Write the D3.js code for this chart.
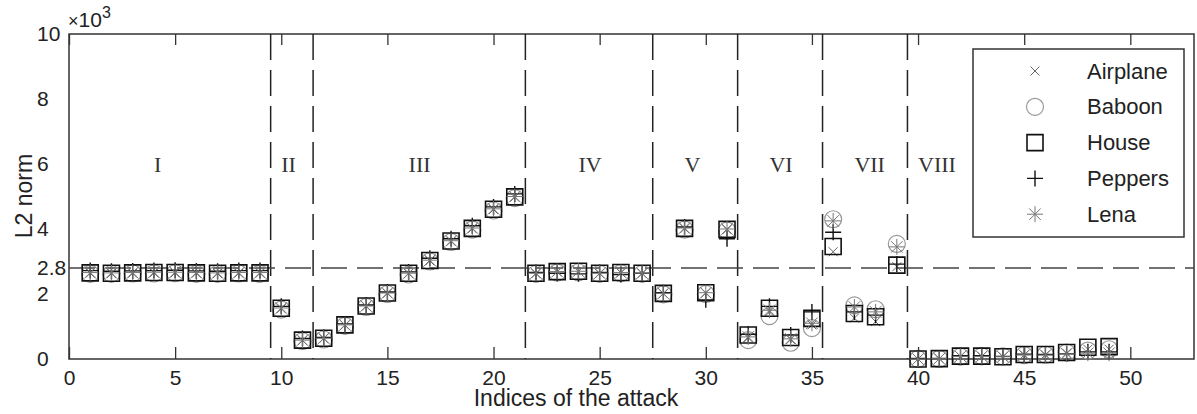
<!DOCTYPE html>
<html>
<head>
<meta charset="utf-8">
<script src="https://cdn.jsdelivr.net/npm/d3@7"></script>
<style>
body { margin: 0; background: #fff; }
svg { display: block; font-family: "Liberation Sans", Arial, sans-serif; }
</style>
</head>
<body>
<svg id="chart" width="1197" height="414"></svg>
<script>
// attack indices 1..49
var indices = [1,2,3,4,5,6,7,8,9,10,11,12,13,14,15,16,17,18,19,20,21,22,23,24,25,
  26,27,28,29,30,31,32,33,34,35,36,37,38,39,40,41,42,43,44,45,46,47,48,49];

// L2 norm (x10^3) per image
var airplane = [2.64,2.63,2.64,2.65,2.65,2.64,2.63,2.64,2.64,
  1.55,0.57,0.63,1.04,1.62,2.02,2.63,3.02,3.62,4.01,4.60,4.98,
  2.63,2.68,2.69,2.63,2.65,2.63,
  2.01,4.01,2.03,3.98,
  0.65,1.45,0.60,1.05,
  3.30,1.26,1.15,2.84,
  0.00,0.01,0.08,0.08,0.07,0.13,0.13,0.18,0.30,0.30];
var baboon = [2.62,2.62,2.63,2.63,2.64,2.62,2.62,2.63,2.62,
  1.52,0.55,0.60,1.02,1.60,2.00,2.60,3.00,3.60,3.98,4.57,4.95,
  2.62,2.66,2.67,2.62,2.64,2.62,
  1.99,3.98,2.00,3.95,
  0.58,1.32,0.50,0.95,
  4.30,1.65,1.53,3.54,
  0.00,0.00,0.07,0.08,0.08,0.12,0.13,0.20,0.26,0.30];
var house = [2.65,2.64,2.65,2.66,2.66,2.65,2.64,2.65,2.65,
  1.56,0.58,0.64,1.05,1.63,2.03,2.64,3.03,3.63,4.02,4.61,4.99,
  2.64,2.69,2.70,2.64,2.66,2.64,
  2.02,4.02,2.04,3.99,
  0.74,1.56,0.66,1.25,
  3.46,1.40,1.30,2.89,
  0.00,0.01,0.09,0.09,0.07,0.14,0.14,0.20,0.36,0.38];
var peppers = [2.72,2.70,2.71,2.72,2.73,2.71,2.70,2.72,2.72,
  1.62,0.63,0.66,1.08,1.66,2.06,2.68,3.10,3.70,4.10,4.68,5.08,
  2.66,2.64,2.62,2.66,2.60,2.64,
  2.04,4.06,1.82,3.70,
  0.76,1.62,0.74,1.45,
  3.90,1.45,1.35,2.92,
  0.02,0.02,0.10,0.10,0.08,0.15,0.14,0.16,0.22,0.22];
var lena = [2.66,2.65,2.66,2.67,2.67,2.66,2.65,2.66,2.66,
  1.57,0.58,0.64,1.05,1.63,2.03,2.64,3.04,3.64,4.03,4.62,5.00,
  2.64,2.69,2.70,2.64,2.66,2.64,
  2.02,4.03,2.04,4.00,
  0.68,1.50,0.62,1.10,
  4.25,1.60,1.45,3.45,
  0.00,0.01,0.08,0.08,0.07,0.12,0.12,0.16,0.18,0.18];

var boundaries = [9.5, 11.5, 21.5, 27.5, 31.5, 35.5, 39.5];
var regionNames = ["I","II","III","IV","V","VI","VII","VIII"];
var regionX = [4, 10, 16, 24, 29, 33, 37, 40];
var regionY = 6;
var threshold = 2.8;

var xTicks = [0,5,10,15,20,25,30,35,40,45,50];
var yTicks = [0,2,2.8,4,6,8,10];

var series = [
  { name: "Airplane", values: airplane, kind: "x",        color: "#666", w: 1,   h: 4.5 },
  { name: "Baboon",   values: baboon,   kind: "circle",   color: "#999", w: 1.2, h: 8.5 },
  { name: "House",    values: house,    kind: "square",   color: "#111", w: 1.6, h: 8 },
  { name: "Peppers",  values: peppers,  kind: "plus",     color: "#111", w: 1.4, h: 8 },
  { name: "Lena",     values: lena,     kind: "asterisk", color: "#777", w: 1,   h: 8 }
];

var svg = d3.select("#chart");
var x = d3.scaleLinear().domain([0, 53]).range([69, 1194]);
var y = d3.scaleLinear().domain([0, 10]).range([359, 34]);

function markerPath(kind, h) {
  var d = h * 0.72;
  if (kind === "square") return `M${-h},${-h}h${2*h}v${2*h}h${-2*h}Z`;
  if (kind === "circle") return `M${h},0A${h},${h} 0 1,1 ${-h},0A${h},${h} 0 1,1 ${h},0Z`;
  if (kind === "x") return `M${-h},${-h}L${h},${h}M${-h},${h}L${h},${-h}`;
  if (kind === "plus") return `M${-h},0H${h}M0,${-h}V${h}`;
  return `M${-h},0H${h}M0,${-h}V${h}M${-d},${-d}L${d},${d}M${-d},${d}L${d},${-d}`;
}

// box
svg.append("rect")
  .attr("x", x(0)).attr("y", y(10))
  .attr("width", x(53) - x(0)).attr("height", y(0) - y(10))
  .attr("fill", "none").attr("stroke", "#333").attr("stroke-width", 1.5);

// axes
var gx = svg.append("g").attr("transform", `translate(0,${y(0)})`)
  .call(d3.axisBottom(x).tickValues(xTicks).tickSizeInner(-12).tickSizeOuter(0).tickPadding(11));
var gt = svg.append("g").attr("transform", `translate(0,${y(10)})`)
  .call(d3.axisTop(x).tickValues(xTicks).tickSizeInner(-11).tickSizeOuter(0).tickFormat(""));
var gy = svg.append("g").attr("transform", `translate(${x(0)},0)`)
  .call(d3.axisLeft(y).tickValues(yTicks).tickSize(0).tickFormat(d => d === 2.8 ? "2.8" : d));
[gx, gt, gy].forEach(g => {
  g.select(".domain").remove();
  g.selectAll(".tick line").attr("stroke", "#333").attr("stroke-width", 1.3);
  g.selectAll("text").attr("fill", "#222").attr("font-size", 21)
    .attr("font-family", "'Liberation Sans', Arial, sans-serif");
});
gy.selectAll("text").attr("text-anchor", "start").attr("x", 37 - x(0));

// exponent label
var ex = svg.append("text").attr("x", 68).attr("y", 27).attr("fill", "#222").attr("font-size", 21);
ex.append("tspan").text("\u00d7").attr("font-size", 18);
ex.append("tspan").text("10");
ex.append("tspan").text("3").attr("font-size", 16).attr("dy", -9);

// axis titles
svg.append("text").attr("x", 576).attr("y", 406).attr("text-anchor", "middle")
  .attr("font-size", 23).attr("fill", "#222").text("Indices of the attack");
svg.append("text").attr("transform", "translate(32,196) rotate(-90)").attr("text-anchor", "middle")
  .attr("font-size", 23).attr("fill", "#222").text("L2 norm");

// dashed guides
svg.selectAll("line.bound").data(boundaries).enter().append("line")
  .attr("class", "bound")
  .attr("x1", d => x(d)).attr("x2", d => x(d))
  .attr("y1", y(10)).attr("y2", y(0))
  .attr("stroke", "#222").attr("stroke-width", 1.5).attr("stroke-dasharray", "26,10");
svg.append("line")
  .attr("x1", x(0)).attr("x2", x(53)).attr("y1", y(threshold)).attr("y2", y(threshold))
  .attr("stroke", "#444").attr("stroke-width", 1.3).attr("stroke-dasharray", "26,10");

// region labels
svg.selectAll("text.region").data(regionNames).enter().append("text")
  .attr("class", "region")
  .attr("x", (d, i) => x(regionX[i])).attr("y", y(regionY))
  .attr("dominant-baseline", "central")
  .attr("font-family", "'Liberation Serif', 'Times New Roman', serif")
  .attr("font-size", 22).attr("fill", "#333")
  .text(d => d);

// markers
series.forEach(s => {
  svg.append("g").selectAll("path")
    .data(s.values).enter().append("path")
    .attr("transform", (d, i) => `translate(${x(indices[i])},${y(d)})`)
    .attr("d", markerPath(s.kind, s.h))
    .attr("fill", "none").attr("stroke", s.color).attr("stroke-width", s.w);
});

// legend
var lg = svg.append("g");
lg.append("rect").attr("x", 973).attr("y", 49).attr("width", 211).attr("height", 188)
  .attr("fill", "#fff").attr("stroke", "#333").attr("stroke-width", 1.5);
var items = lg.selectAll("g.item").data(series).enter().append("g")
  .attr("class", "item")
  .attr("transform", (d, i) => `translate(1035,${71 + i * 35.8})`);
items.append("path").attr("d", d => markerPath(d.kind, d.h))
  .attr("fill", "none").attr("stroke", d => d.color).attr("stroke-width", d => d.w);
items.append("text").attr("x", 52).attr("dominant-baseline", "central")
  .attr("font-size", 22).attr("fill", "#222").text(d => d.name);
</script>
</body>
</html>
